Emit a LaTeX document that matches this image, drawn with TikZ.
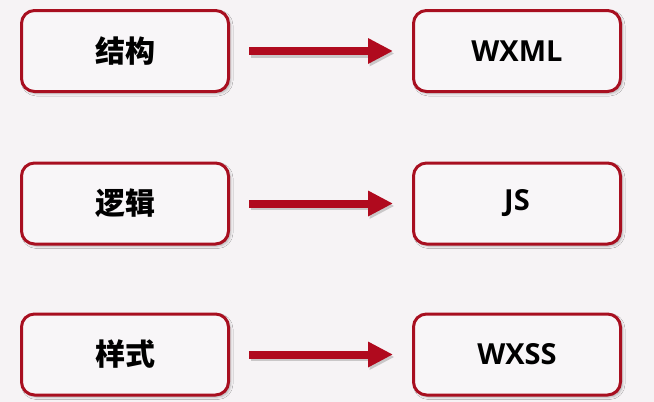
\documentclass[tikz,border=0pt]{standalone}
\usepackage{fontspec}
\setmainfont{Open Sans}
\newfontfamily\cjk{Noto Sans CJK SC}
\usetikzlibrary{arrows.meta,shadows.blur}
\definecolor{bg}{HTML}{F6F3F5}
\definecolor{boxfill}{HTML}{F8F6F8}
\definecolor{boxred}{HTML}{A80F20}
\definecolor{arrred}{HTML}{B00A1E}
\tikzset{
  box/.style={draw=boxred, line width=3pt, fill=boxfill, rounded corners=13pt,
    minimum width=207pt, minimum height=81pt, inner sep=0pt,
    blur shadow={shadow xshift=2pt, shadow yshift=-2pt, shadow blur radius=2.5pt, shadow opacity=30}},
  cntxt/.style={font=\cjk\bfseries\fontsize{30pt}{32pt}\selectfont},
  entxt/.style={font=\bfseries\fontsize{29pt}{31pt}\selectfont},
  bigarrow/.style={draw=arrred, line width=8pt, -{Triangle[length=25pt,width=24pt]},
    shorten <=19pt, shorten >=19pt},
  arrshadow/.style={bigarrow, draw=black, opacity=0.18,
    transform canvas={shift={(1.5pt,-2.5pt)}}}
}
\begin{document}
\begin{tikzpicture}[x=1pt,y=-1pt]
  \fill[bg] (0,0) rectangle (654,402);
  \useasboundingbox (0,0) rectangle (654,402);
  \node[box, cntxt] (a1) at (125,51) {结构};
  \node[box, cntxt] (a2) at (125,203.5) {逻辑};
  \node[box, cntxt] (a3) at (125,354.5) {样式};
  \node[box, entxt] (b1) at (517,51) {WXML};
  \node[box, entxt] (b2) at (517,203.5) {JS};
  \node[box, entxt] (b3) at (517,354.5) {WXSS};
  \draw[arrshadow] (a1) -- (b1);
  \draw[arrshadow] (a2) -- (b2);
  \draw[arrshadow] (a3) -- (b3);
  \draw[bigarrow] (a1) -- (b1);
  \draw[bigarrow] (a2) -- (b2);
  \draw[bigarrow] (a3) -- (b3);
\end{tikzpicture}
\end{document}
